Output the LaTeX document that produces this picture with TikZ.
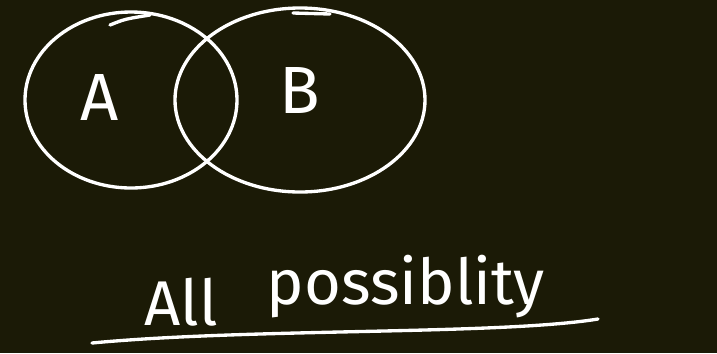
\documentclass[tikz,border=0pt]{standalone}
\usepackage{fontspec}
\setsansfont{Fira Sans}
\definecolor{board}{RGB}{27,26,6}
\begin{document}
\begin{tikzpicture}[x=0.02cm, y=-0.02cm, line width=1.9pt, white,
  every node/.style={font=\sffamily, text=white},
  set/.style={draw, line cap=round},
  lab/.style={font=\sffamily\fontsize{38}{38}\selectfont},
  hw/.style={font=\sffamily\fontsize{36}{36}\selectfont, anchor=base west, inner sep=0pt}]
\fill[board] (0,0) rectangle (717,353);
\useasboundingbox (0,0) rectangle (717,353);
% the two sets
\draw[set] (131,100) ellipse [x radius=106, y radius=88];
\draw[set] (300,100) ellipse [x radius=125, y radius=92];
\draw[line cap=round] (110,25) .. controls (125,19) .. (150,15);
\draw[line cap=round] (293,13) -- (330,14);
\node[lab] (labA) at (100,97) {A};
\node[lab] (labB) at (300,90) {B};
% caption
\node[hw] (all) at (143,325) {All};
\node[hw] (poss) at (265,304) {possiblity};
\coordinate (ulL) at (92,343);
\coordinate (ulR) at (598,319);
\draw[line cap=round] (ulL) .. controls (250,328) and (500,335) .. (ulR);
\end{tikzpicture}
\end{document}
